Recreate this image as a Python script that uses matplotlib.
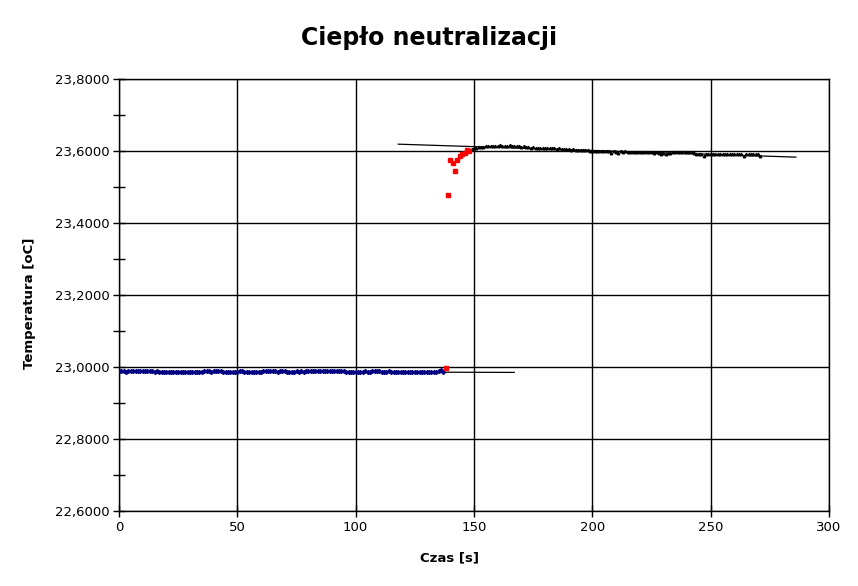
import numpy as np
import matplotlib
matplotlib.use("Agg")
import matplotlib.pyplot as plt
from matplotlib.ticker import MultipleLocator, FuncFormatter

# przed zobojetnieniem (0 - 137 s)
t_przed = np.arange(0, 138)
T_przed = [
    22.990, 22.990, 22.988, 22.987, 22.990, 22.989, 22.990, 22.988, 22.990, 22.990,
    22.990, 22.990, 22.990, 22.990, 22.989, 22.987, 22.989, 22.987, 22.987, 22.987,
    22.987, 22.987, 22.987, 22.987, 22.987, 22.987, 22.987, 22.987, 22.987, 22.987,
    22.987, 22.987, 22.987, 22.987, 22.987, 22.987, 22.989, 22.990, 22.989, 22.987,
    22.990, 22.989, 22.990, 22.990, 22.987, 22.987, 22.987, 22.987, 22.987, 22.987,
    22.987, 22.990, 22.989, 22.987, 22.987, 22.987, 22.987, 22.987, 22.987, 22.987,
    22.987, 22.990, 22.989, 22.990, 22.988, 22.990, 22.989, 22.987, 22.990, 22.990,
    22.989, 22.987, 22.987, 22.987, 22.987, 22.990, 22.987, 22.990, 22.987, 22.990,
    22.989, 22.990, 22.990, 22.988, 22.990, 22.989, 22.990, 22.988, 22.990, 22.989,
    22.990, 22.988, 22.990, 22.989, 22.990, 22.988, 22.987, 22.987, 22.987, 22.987,
    22.987, 22.987, 22.987, 22.987, 22.990, 22.987, 22.987, 22.990, 22.988, 22.990,
    22.989, 22.987, 22.987, 22.987, 22.990, 22.987, 22.987, 22.987, 22.987, 22.987,
    22.987, 22.987, 22.987, 22.987, 22.987, 22.987, 22.987, 22.987, 22.987, 22.987,
    22.987, 22.987, 22.987, 22.987, 22.987, 22.990, 22.991, 22.987,
]

# skok temperatury
t_skok = [138, 138.9, 140, 141.1, 141.9, 142.9, 143.9, 145, 146.2, 147, 148]
T_skok = [22.998, 23.479, 23.574, 23.566, 23.545, 23.574, 23.587, 23.591, 23.595, 23.604, 23.599]

# po zobojetnieniu (149 - 271 s)
t_po = np.arange(149, 272)
T_po = [
    23.606, 23.608, 23.609, 23.610, 23.611, 23.612, 23.613, 23.614, 23.613, 23.615,
    23.615, 23.614, 23.616, 23.615, 23.614, 23.615, 23.616, 23.614, 23.615, 23.613,
    23.614, 23.612, 23.613, 23.611, 23.610, 23.609, 23.610, 23.609, 23.608, 23.609,
    23.608, 23.609, 23.608, 23.607, 23.608, 23.607, 23.606, 23.607, 23.606, 23.605,
    23.606, 23.605, 23.604, 23.605, 23.604, 23.603, 23.604, 23.602, 23.603, 23.602,
    23.601, 23.600, 23.601, 23.600, 23.599, 23.600, 23.599, 23.600, 23.599, 23.594,
    23.599, 23.598, 23.594, 23.599, 23.598, 23.599, 23.598, 23.597, 23.596, 23.597,
    23.596, 23.597, 23.596, 23.597, 23.596, 23.597, 23.596, 23.595, 23.596, 23.594,
    23.593, 23.594, 23.593, 23.594, 23.595, 23.596, 23.597, 23.596, 23.597, 23.596,
    23.597, 23.596, 23.597, 23.596, 23.595, 23.593, 23.592, 23.593, 23.586, 23.592,
    23.593, 23.592, 23.593, 23.592, 23.593, 23.592, 23.593, 23.592, 23.593, 23.592,
    23.593, 23.592, 23.593, 23.592, 23.591, 23.586, 23.592, 23.591, 23.592, 23.591,
    23.592, 23.591, 23.586,
]

# linie trendu
trend1_t = [0, 167]
trend1_T = [22.988, 22.985]
trend2_t = [118, 286]
trend2_T = [23.619, 23.583]


def przecinek(v, pos):
    return ("%.4f" % v).replace(".", ",")


fig = plt.figure(figsize=(8.58, 5.86), dpi=100)
ax = fig.add_axes([119 / 858, 75 / 586, 710 / 858, 432 / 586])

ax.plot(trend1_t, trend1_T, color="black", lw=0.9, zorder=3)
ax.plot(trend2_t, trend2_T, color="black", lw=0.9, zorder=3)
ax.plot(t_przed, T_przed, linestyle="none", marker="D", ms=2.0, color="#000080", zorder=4)
ax.plot(t_po, T_po, linestyle="none", marker="^", ms=1.8, color="black", zorder=4)
ax.plot(t_skok, T_skok, linestyle="none", marker="s", ms=3.2, color="#ff0000", zorder=5)

ax.set_xlim(0, 300)
ax.set_ylim(22.6, 23.8)
ax.xaxis.set_major_locator(MultipleLocator(50))
ax.yaxis.set_major_locator(MultipleLocator(0.2))
ax.yaxis.set_minor_locator(MultipleLocator(0.1))
ax.yaxis.set_major_formatter(FuncFormatter(przecinek))
ax.grid(True, which="major", color="black", lw=1)
ax.set_axisbelow(True)
ax.tick_params(axis="both", which="both", direction="inout", length=8, width=1,
               labelsize=9.5, colors="black", pad=3)
for s in ax.spines.values():
    s.set_color("black")
    s.set_linewidth(1)

fig.text(0.5, 1 - 38 / 586, "Ciepło neutralizacji", ha="center", va="center",
         fontsize=17, fontweight="bold")
fig.text(30 / 858, 1 - 303 / 586, "Temperatura [oC]", ha="center", va="center",
         rotation=90, fontsize=9.5, fontweight="bold")
fig.text(449 / 858, 1 - 558 / 586, "Czas [s]", ha="center", va="center",
         fontsize=9.5, fontweight="bold")

fig.savefig("out.png", dpi=100)
